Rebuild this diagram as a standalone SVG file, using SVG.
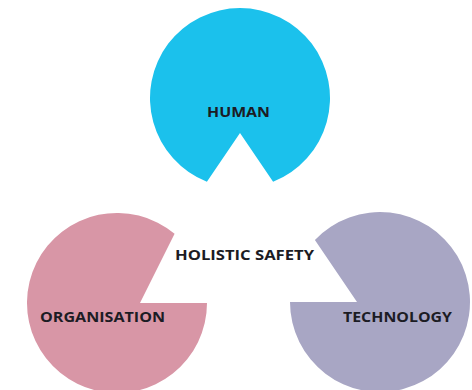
<svg xmlns="http://www.w3.org/2000/svg" width="472" height="390" viewBox="0 0 472 390">
  <style>
    .lbl { font-family: "Open Sans", "Liberation Sans", sans-serif; font-weight: 700; font-size: 15px; fill: #1c1c24; text-anchor: middle; }
    .human { fill: #1bc1ec; }
    .org { fill: #d896a6; }
    .tech { fill: #a8a6c4; }
  </style>
  <rect width="472" height="390" fill="#ffffff"/>
  <g id="connectors"></g>
  <g id="human">
    <path class="human" d="M 206.9 181.7 A 90 90 0 1 1 273.1 181.7 L 240 133 Z"/>
    <text class="lbl" x="238.5" y="117" textLength="63" lengthAdjust="spacingAndGlyphs">HUMAN</text>
  </g>
  <g id="organisation">
    <path class="org" d="M 207 303 A 90 90 0 1 1 174.6 233.8 L 140 303 Z"/>
    <text class="lbl" x="102.5" y="322" textLength="125" lengthAdjust="spacingAndGlyphs">ORGANISATION</text>
  </g>
  <g id="technology">
    <path class="tech" d="M 290 302 A 90 90 0 1 0 314.9 239.9 L 357 302 Z"/>
    <text class="lbl" x="397.5" y="322" textLength="109" lengthAdjust="spacingAndGlyphs">TECHNOLOGY</text>
  </g>
  <g id="holistic-safety">
    <text class="lbl" x="244.5" y="260" textLength="139" lengthAdjust="spacingAndGlyphs">HOLISTIC SAFETY</text>
  </g>
</svg>
